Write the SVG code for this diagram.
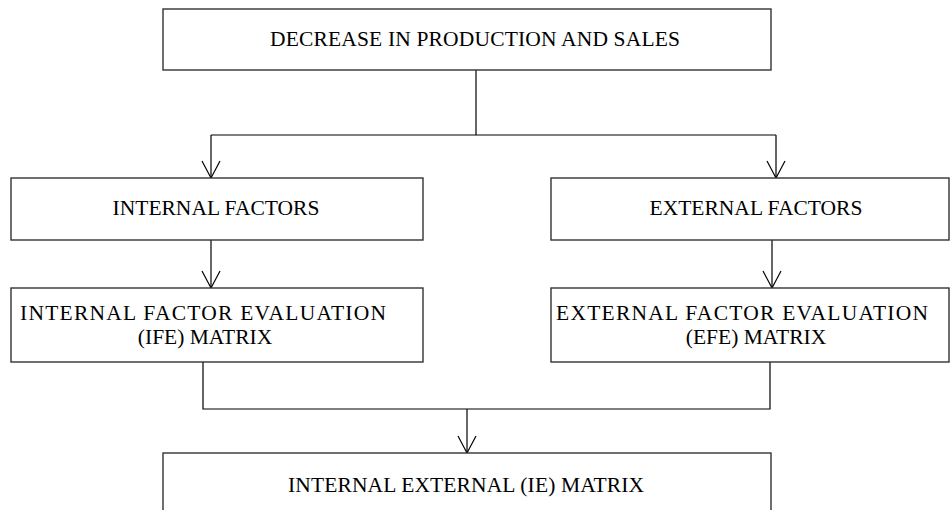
<svg xmlns="http://www.w3.org/2000/svg" width="950" height="510" viewBox="0 0 950 510">
<defs>
<marker id="arr" markerUnits="userSpaceOnUse" markerWidth="20" markerHeight="20" viewBox="-18 -10 20 20" refX="0" refY="0" orient="auto">
<path d="M-17,-9 L0,0 L-17,9" fill="none" stroke="#000" stroke-width="1.2"/>
</marker>
</defs>
<style>
.box{fill:#fff;stroke:#333;stroke-width:1.4}
.t{font-family:"Liberation Serif","Times New Roman",serif;font-size:21.5px;fill:#000;text-anchor:middle}
.c{fill:none;stroke:#000;stroke-width:1.2}
</style>
<rect width="950" height="510" fill="#fff"/>
<g id="connectors">
<path class="c" d="M476,70 V135"/>
<path class="c" d="M211,135 H776"/>
<path class="c" d="M211,135 V178" marker-end="url(#arr)"/>
<path class="c" d="M776,135 V178" marker-end="url(#arr)"/>
<path class="c" d="M211,240 V288" marker-end="url(#arr)"/>
<path class="c" d="M772,240 V288" marker-end="url(#arr)"/>
<path class="c" d="M203,362 V409 H770 V362"/>
<path class="c" d="M467,409 V453" marker-end="url(#arr)"/>
</g>
<g id="decrease">
<rect class="box" x="163" y="9" width="608" height="61"/>
<text class="t" x="475" y="46" textLength="410" lengthAdjust="spacing">DECREASE IN PRODUCTION AND SALES</text>
</g>
<g id="internal">
<rect class="box" x="11" y="178" width="412" height="62"/>
<text class="t" x="216" y="215">INTERNAL FACTORS</text>
</g>
<g id="external">
<rect class="box" x="551" y="178" width="398" height="62"/>
<text class="t" x="756" y="215">EXTERNAL FACTORS</text>
</g>
<g id="ife">
<rect class="box" x="11" y="288" width="412" height="74"/>
<text class="t" x="203" y="320" textLength="366" lengthAdjust="spacing">INTERNAL FACTOR EVALUATION</text>
<text class="t" x="205" y="344">(IFE) MATRIX</text>
</g>
<g id="efe">
<rect class="box" x="551" y="288" width="398" height="74"/>
<text class="t" x="742" y="320" textLength="372" lengthAdjust="spacing">EXTERNAL FACTOR EVALUATION</text>
<text class="t" x="756" y="344">(EFE) MATRIX</text>
</g>
<g id="ie">
<rect class="box" x="163" y="453" width="608" height="70"/>
<text class="t" x="466" y="492" textLength="356" lengthAdjust="spacing">INTERNAL EXTERNAL (IE) MATRIX</text>
</g>
</svg>
